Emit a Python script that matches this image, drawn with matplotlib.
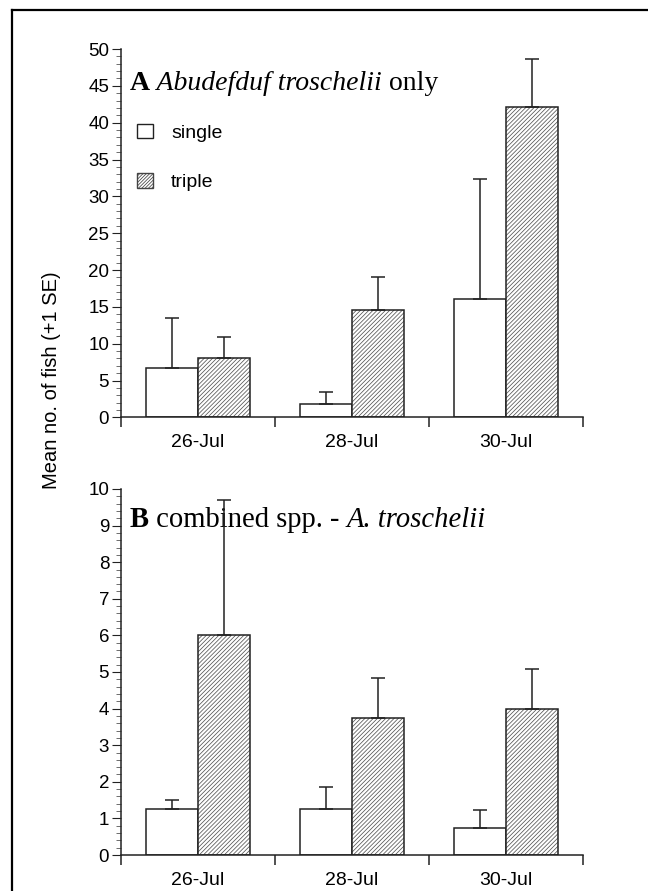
import numpy as np
import matplotlib
matplotlib.use("Agg")
import matplotlib.pyplot as plt
from matplotlib.patches import Patch
from matplotlib.lines import Line2D
from matplotlib.transforms import offset_copy

# data
dates = ["26-Jul", "28-Jul", "30-Jul"]

a_single = [6.7, 1.75, 16.1]
a_single_se = [6.75, 1.75, 16.2]
a_triple = [8.0, 14.6, 42.1]
a_triple_se = [2.9, 4.4, 6.6]

b_single = [1.25, 1.25, 0.75]
b_single_se = [0.25, 0.62, 0.47]
b_triple = [6.0, 3.73, 4.0]
b_triple_se = [3.7, 1.1, 1.08]

plt.rcParams["hatch.linewidth"] = 0.55
dark = "#222222"

fig = plt.figure(figsize=(6.48, 8.91), dpi=100)
ax1 = fig.add_axes([0.1867, 0.5316, 0.713, 0.4134])
ax2 = fig.add_axes([0.1867, 0.0404, 0.713, 0.4108])

x = np.arange(len(dates))
w = 0.335


def panel(ax, single, single_se, triple, triple_se, ymax, major, minor):
    ax.bar(x - w / 2, single, w, facecolor="white", edgecolor=dark, lw=1.1, zorder=2)
    ax.bar(x + w / 2, triple, w, facecolor="white", edgecolor="#555555", hatch="////////", lw=0, zorder=2)
    ax.bar(x + w / 2, triple, w, facecolor="none", edgecolor=dark, lw=1.1, zorder=3)
    ax.errorbar(x - w / 2, single, yerr=[np.zeros(3), single_se], fmt="none",
                ecolor=dark, elinewidth=1.1, capsize=4.7, capthick=1.1, zorder=5)
    ax.errorbar(x + w / 2, triple, yerr=[np.zeros(3), triple_se], fmt="none",
                ecolor=dark, elinewidth=1.1, capsize=4.7, capthick=1.1, zorder=5)

    ax.set_xlim(-0.5, 2.5)
    ax.set_ylim(0, ymax)
    for s in ["top", "right"]:
        ax.spines[s].set_visible(False)
    for s in ["left", "bottom"]:
        ax.spines[s].set_linewidth(1.1)
        ax.spines[s].set_color(dark)

    ax.set_yticks(np.arange(0, ymax + 0.01, major))
    ax.set_yticks(np.arange(0, ymax + 0.01, minor), minor=True)
    ax.tick_params(axis="y", which="major", length=6.5, width=0.8, color=dark,
                   labelsize=13.5, pad=2, direction="out")
    ax.tick_params(axis="y", which="minor", length=3.6, width=0.6, color="#555555",
                   direction="out")

    ax.set_xticks(x)
    ax.set_xticklabels(dates)
    ax.set_xticks([-0.5, 0.5, 1.5, 2.5], minor=True)
    ax.tick_params(axis="x", which="major", length=0, labelsize=14, pad=12)
    ax.tick_params(axis="x", which="minor", length=7.5, width=1.1, color=dark,
                   direction="out")
    for lab in ax.get_xticklabels() + ax.get_yticklabels():
        lab.set_fontfamily("Liberation Sans")


panel(ax1, a_single, a_single_se, a_triple, a_triple_se, 50, 5, 1)
panel(ax2, b_single, b_single_se, b_triple, b_triple_se, 10, 1, 0.2)


def rich_text(ax, xa, ya, parts, size):
    r = fig.canvas.get_renderer()
    dx = 0
    for s, weight, style in parts:
        tr = offset_copy(ax.transAxes, fig=fig, x=dx, y=0, units="dots")
        t = ax.text(xa, ya, s, transform=tr, fontsize=size, fontweight=weight,
                    fontstyle=style, family="Liberation Serif", va="baseline",
                    ha="left", zorder=4)
        dx += t.get_window_extent(renderer=r).width


rich_text(ax1, 0.0195, 0.8887,
          [("A", "bold", "normal"), (" Abudefduf troschelii", "normal", "italic"),
           (" only", "normal", "normal")], 20)
rich_text(ax2, 0.0195, 0.896,
          [("B", "bold", "normal"), (" combined spp. - ", "normal", "normal"),
           ("A. troschelii", "normal", "italic")], 20.6)

handles = [Patch(facecolor="white", edgecolor=dark, lw=1.0),
           Patch(facecolor="white", edgecolor="#444444", hatch="//////////", lw=1.0)]
leg = ax1.legend(handles, ["single", "triple"], loc="upper left",
                 bbox_to_anchor=(0.0346, 0.797), frameon=False, borderpad=0,
                 borderaxespad=0, handlelength=0.85, handleheight=0.78,
                 handletextpad=0.9, labelspacing=1.6,
                 prop={"family": "Liberation Sans", "size": 14})

fig.text(52 / 648, 1 - 380 / 891, "Mean no. of fish (+1 SE)", rotation=90,
         ha="center", va="center", fontsize=14.5, family="Liberation Sans")

# frame around the figure (top and left edges)
fig.add_artist(Line2D([11.5 / 648, 11.5 / 648], [0, 1 - 10 / 891], color="black",
                      lw=1.6, transform=fig.transFigure))
fig.add_artist(Line2D([11.5 / 648, 1], [1 - 10 / 891, 1 - 10 / 891], color="black",
                      lw=1.6, transform=fig.transFigure))

fig.savefig("out.png", dpi=100)
